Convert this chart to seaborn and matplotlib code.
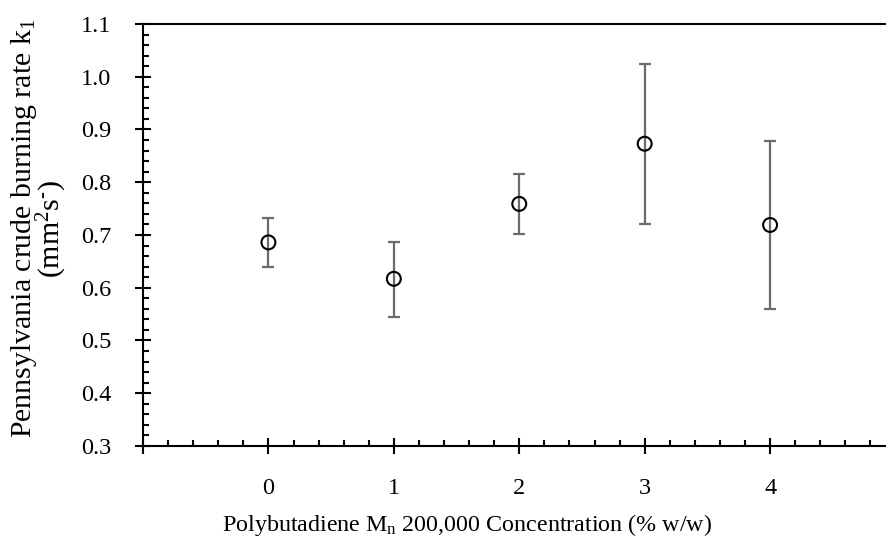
import numpy as np
import pandas as pd
import matplotlib
matplotlib.use("Agg")
import matplotlib.pyplot as plt
from matplotlib.ticker import MultipleLocator, FixedLocator, FixedFormatter
import seaborn as sns

# Data
concentration = [0, 1, 2, 3, 4]
burning_rate = [0.686, 0.617, 0.759, 0.873, 0.719]
err_low = [0.639, 0.545, 0.702, 0.721, 0.560]
err_high = [0.732, 0.687, 0.816, 1.024, 0.878]

x_label = "Polybutadiene M$_\\mathregular{n}$ 200,000 Concentration (% w/w)"
y_label = "Pennsylvania crude burning rate k$_\\mathregular{1}$\n(mm$^\\mathregular{2}$s$^\\text{-}$)"

sns.set_theme(style="white")
plt.rcParams["font.family"] = ["Liberation Serif", "DejaVu Serif"]
plt.rcParams["mathtext.fontset"] = "custom"
plt.rcParams["mathtext.rm"] = "Liberation Serif"
plt.rcParams["mathtext.it"] = "Liberation Serif:italic"

df = pd.DataFrame({"c": concentration, "k": burning_rate})

fig = plt.figure(figsize=(8.86, 5.39), dpi=100)
ax_left, ax_right = 143, 895.5
ax = fig.add_axes([ax_left / 886, 1 - 446 / 539, (ax_right - ax_left) / 886, (446 - 24) / 539])

yerr = np.array([np.array(burning_rate) - np.array(err_low),
                 np.array(err_high) - np.array(burning_rate)])
ax.errorbar(concentration, burning_rate, yerr=yerr, fmt="none",
            ecolor="#6b6b6b", elinewidth=1.6, capsize=4.5, capthick=1.6, zorder=2)
sns.scatterplot(data=df, x="c", y="k", ax=ax, marker="o", s=100,
                facecolor="none", edgecolor="black", linewidth=1.5, zorder=3)

ax.set_xlim(-1, 5)
ax.set_ylim(0.3, 1.1)

ax.xaxis.set_major_locator(FixedLocator([-1, 0, 1, 2, 3, 4, 5]))
ax.xaxis.set_major_formatter(FixedFormatter(["", "0", "1", "2", "3", "4", ""]))
ax.xaxis.set_minor_locator(MultipleLocator(0.2))
ax.yaxis.set_major_locator(MultipleLocator(0.1))
ax.yaxis.set_major_formatter(plt.FuncFormatter(lambda v, p: f"{v:.1f}"))
ax.yaxis.set_minor_locator(MultipleLocator(0.02))

ax.tick_params(axis="both", which="major", direction="inout", length=12, width=1.5,
               color="black", labelsize=17.5, labelcolor="black")
ax.tick_params(axis="both", which="minor", direction="in", length=4.5, width=1.5,
               color="black")
ax.tick_params(axis="y", which="major", pad=17)
ax.tick_params(axis="x", which="major", pad=17)
ax.tick_params(left=True, bottom=True, which="both")

for s in ["left", "bottom", "top"]:
    ax.spines[s].set_visible(True)
    ax.spines[s].set_color("black")
    ax.spines[s].set_linewidth(1.5)
ax.spines["right"].set_visible(False)

ax.set_xlabel(x_label, fontsize=17.3, color="black")
ax.xaxis.set_label_coords((467 - ax_left) / (ax_right - ax_left), -0.157)
ax.set_ylabel(y_label, fontsize=21.5, color="black", linespacing=0.86)
ax.yaxis.set_label_coords(-0.098, 0.515)

fig.savefig("out.png", dpi=100)
